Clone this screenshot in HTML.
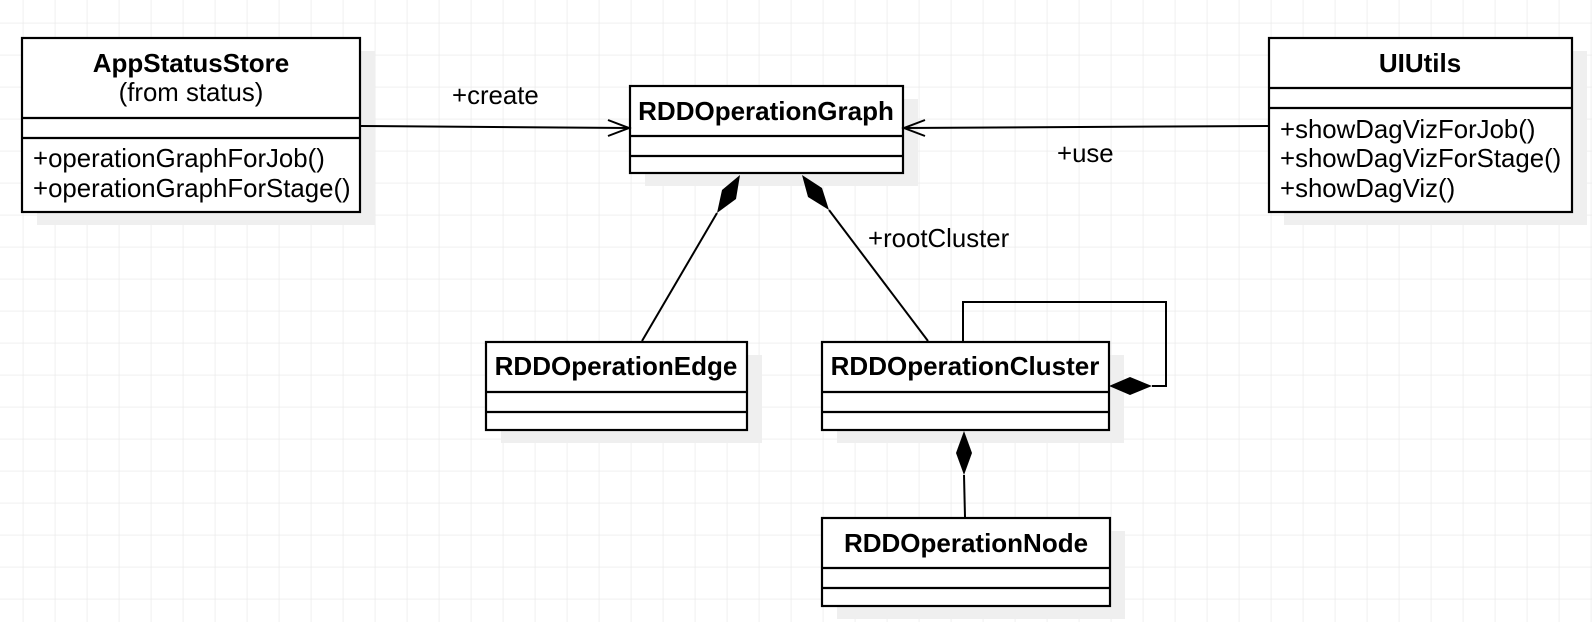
<!DOCTYPE html>
<html><head><meta charset="utf-8"><style>
html,body{margin:0;padding:0;background:#fff;}
svg{display:block;}
text{font-family:"Liberation Sans",Arial,sans-serif;fill:#000;}
.t{font-weight:bold;font-size:26px;text-anchor:middle;}
.m{font-size:25.8px;}
</style></head><body>
<svg width="1592" height="622" viewBox="0 0 1592 622" xmlns="http://www.w3.org/2000/svg">
<defs>
<pattern id="g" x="22.7" y="22.7" width="32" height="32" patternUnits="userSpaceOnUse">
<path d="M0 0H32M0 0V32" stroke="#ebebeb" stroke-width="1.5" fill="none"/>
</pattern>
</defs>
<rect width="1592" height="622" fill="url(#g)"/>
<g fill="#efefef">
<rect x="37" y="51" width="338" height="174"/>
<rect x="645" y="99" width="273" height="87"/>
<rect x="1284" y="51" width="303" height="174"/>
<rect x="501" y="355" width="261" height="88"/>
<rect x="837" y="355" width="287" height="88"/>
<rect x="837" y="531" width="288" height="88"/>
</g>
<g fill="#fff" stroke="#000" stroke-width="2.2">
<rect x="22" y="38" width="338" height="174"/>
<line x1="22" y1="118" x2="360" y2="118"/><line x1="22" y1="138" x2="360" y2="138"/>
<rect x="630" y="86" width="273" height="87"/>
<line x1="630" y1="136" x2="903" y2="136"/><line x1="630" y1="156" x2="903" y2="156"/>
<rect x="1269" y="38" width="303" height="174"/>
<line x1="1269" y1="88" x2="1572" y2="88"/><line x1="1269" y1="108" x2="1572" y2="108"/>
<rect x="486" y="342" width="261" height="88"/>
<line x1="486" y1="392" x2="747" y2="392"/><line x1="486" y1="412" x2="747" y2="412"/>
<rect x="822" y="342" width="287" height="88"/>
<line x1="822" y1="392" x2="1109" y2="392"/><line x1="822" y1="412" x2="1109" y2="412"/>
<rect x="822" y="518" width="288" height="88"/>
<line x1="822" y1="568" x2="1110" y2="568"/><line x1="822" y1="588" x2="1110" y2="588"/>
</g>
<g stroke="#000" stroke-width="2" fill="none">
<line x1="361" y1="126" x2="629" y2="128"/>
<polyline points="608,120 629,128 608,136"/>
<line x1="1268" y1="126" x2="904" y2="128"/>
<polyline points="925,120 904,128 925,136"/>
<line x1="717" y1="213" x2="642" y2="341"/>
<line x1="829" y1="210" x2="928" y2="341"/>
<polyline points="963,341 963,302 1166,302 1166,386 1152,386"/>
<line x1="964" y1="475" x2="965" y2="517"/>
</g>
<g fill="#000">
<polygon points="740,175 736,199 717,213 722,190"/>
<polygon points="802,175 822,188 829,210 808,197"/>
<polygon points="1109,386 1130,377 1152,386 1130,395"/>
<polygon points="964,431 972,453 964,475 956,453"/>
</g>
<text class="t" x="191" y="72">AppStatusStore</text>
<text x="191" y="101" style="font-size:25.8px;text-anchor:middle">(from status)</text>
<text class="m" x="33" y="167">+operationGraphForJob()</text>
<text class="m" x="33" y="197">+operationGraphForStage()</text>
<text class="t" x="766" y="120">RDDOperationGraph</text>
<text class="t" x="1420" y="72">UIUtils</text>
<text class="m" x="1280" y="138">+showDagVizForJob()</text>
<text class="m" x="1280" y="167">+showDagVizForStage()</text>
<text class="m" x="1280" y="197">+showDagViz()</text>
<text class="t" x="616" y="375">RDDOperationEdge</text>
<text class="t" x="965" y="375">RDDOperationCluster</text>
<text class="t" x="966" y="552">RDDOperationNode</text>
<text class="m" x="452" y="104">+create</text>
<text class="m" x="1057" y="162">+use</text>
<text class="m" x="868" y="247">+rootCluster</text>
</svg>
</body></html>
